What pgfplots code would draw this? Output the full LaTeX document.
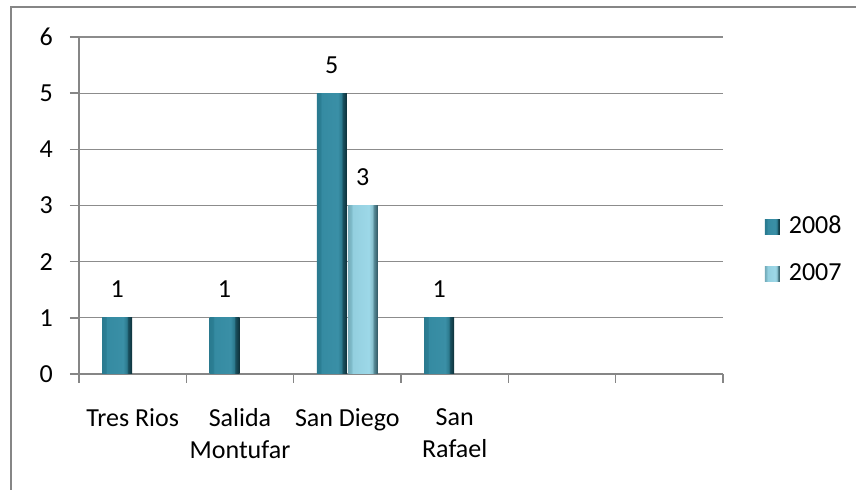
\documentclass[border=0pt]{standalone}
\usepackage{pgfplots}
\pgfplotsset{compat=1.18}
\usepackage{fontspec}
\setmainfont{Carlito}

\definecolor{linegray}{HTML}{868686}
\definecolor{gridgray}{HTML}{8C8C8C}

\definecolor{aA}{HTML}{2A7A8F}
\definecolor{aB}{HTML}{2B7E94}
\definecolor{aC}{HTML}{358BA2}
\definecolor{aD}{HTML}{3A8FA6}
\definecolor{aE}{HTML}{2C7A8E}
\definecolor{aF}{HTML}{1A5261}
\definecolor{aG}{HTML}{0D2F38}
\definecolor{bA}{HTML}{74AAB8}
\definecolor{bB}{HTML}{7FBCCB}
\definecolor{bC}{HTML}{93CFDF}
\definecolor{bD}{HTML}{9DD8E8}
\definecolor{bE}{HTML}{88C0CE}
\definecolor{bF}{HTML}{5A8E9B}
\definecolor{bG}{HTML}{2F5560}

% bevelled column fills: shaded left edge, flat face, dark right edge
% (TikZ maps the 25bp..75bp band of a shading onto the filled path)
\pgfdeclarehorizontalshading{bevelA}{100bp}{%
  color(0bp)=(aA); color(25bp)=(aA); color(31bp)=(aB); color(33bp)=(aC);
  color(60bp)=(aD); color(66bp)=(aE); color(68bp)=(aF); color(75bp)=(aG);
  color(100bp)=(aG)}
\pgfdeclarehorizontalshading{bevelB}{100bp}{%
  color(0bp)=(bA); color(25bp)=(bA); color(31bp)=(bB); color(33bp)=(bC);
  color(60bp)=(bD); color(66bp)=(bE); color(68bp)=(bF); color(75bp)=(bG);
  color(100bp)=(bG)}

\newcommand{\chartfont}{\fontsize{26bp}{32bp}\selectfont}

\pgfplotsset{
  y2008/.style={draw=none, shading=bevelA, bar shift=-15.5bp},
  y2007/.style={draw=none, shading=bevelB, bar shift=15.5bp},
}

\begin{document}
\begin{tikzpicture}[x=1bp,y=1bp]
\begin{axis}[
  scale only axis, width=644bp, height=337bp,
  xmin=-0.5, xmax=5.5, ymin=0, ymax=6,
  ytick={0,...,6},
  xtick={0,...,5},
  xticklabels={Tres Rios,{Salida\\Montufar},San Diego,{San\\Rafael},{},{}},
  minor xtick={-0.5,0.5,...,5.5},
  major x tick style={draw=none},
  tick align=outside,
  major tick length=9bp, minor tick length=9bp,
  axis x line*=bottom, axis y line*=left,
  axis line style={linegray, line width=1.5bp},
  tick style={linegray, line width=1.5bp},
  ymajorgrids, grid style={gridgray, line width=1.2bp},
  /pgf/number format/assume math mode=true,
  ticklabel style={font=\chartfont},
  yticklabel style={anchor=east, inner sep=0pt, xshift=-17bp},
  xticklabel style={align=center, anchor=north, inner sep=0pt, yshift=-25bp},
  ybar, bar width=30bp,
  nodes near coords,
  every node near coord/.append style={font=\chartfont, anchor=base, yshift=20bp, inner sep=0pt},
  legend style={draw=none, fill=none, at={(axis description cs:1.060,0.366)}, anchor=west,
    font=\chartfont, row sep=23bp, column sep=9bp,
    nodes={inner sep=0pt, text height=18bp, text depth=6bp}},
  legend cell align=left,
  legend image code/.code={\path[#1, draw=none] (0bp,-7.5bp) rectangle (15bp,7.5bp);},
]
% one plot per column so that each column gets its own bevel shading
\addplot[y2008] coordinates {(0,1)};
\addplot[y2007] coordinates {(2,3)};
\addplot[y2008, forget plot] coordinates {(1,1)};
\addplot[y2008, forget plot] coordinates {(2,5)};
\addplot[y2008, forget plot] coordinates {(3,1)};
\legend{2008,2007}
\coordinate (O) at (rel axis cs:0,0);
\end{axis}
\draw[linegray, line width=2bp] ([shift={(-68,-116)}]O) -- ++(0,483) -- ++(845,0);
\pgfresetboundingbox
\useasboundingbox ([shift={(-79,-116)}]O) rectangle ++(856,490);
\end{tikzpicture}
\end{document}
